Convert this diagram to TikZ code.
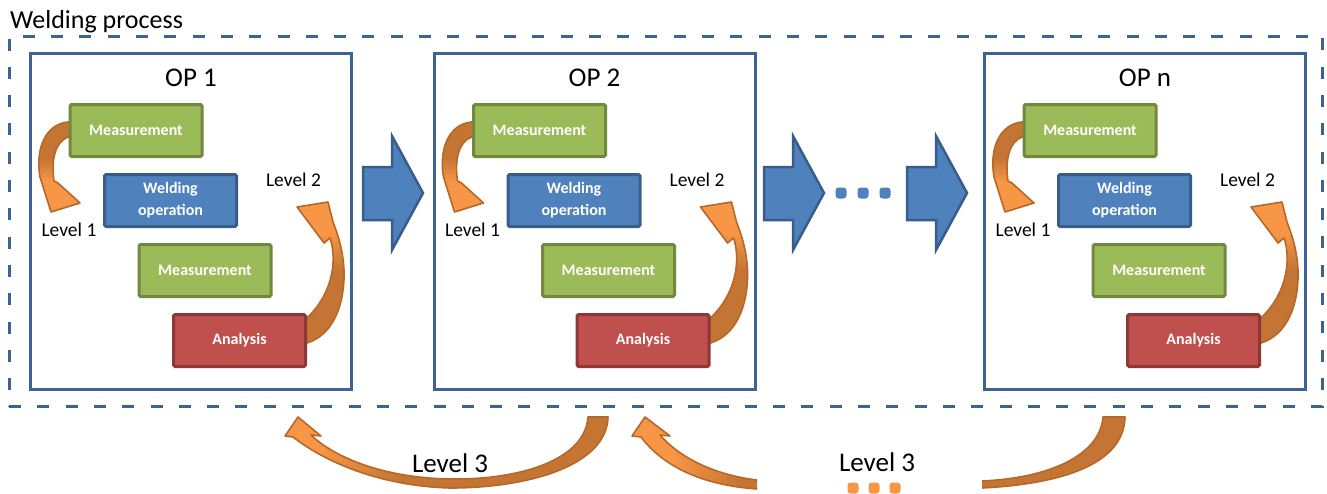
\documentclass[tikz,border=0pt]{standalone}
\usepackage{fontspec}
\setmainfont{Carlito}

% palette
\definecolor{frameblue}{HTML}{3B6393}
\definecolor{mgreen}{HTML}{9BBB59}
\definecolor{mgreenD}{HTML}{71893F}
\definecolor{wblue}{HTML}{4F81BD}
\definecolor{wblueD}{HTML}{385D8A}
\definecolor{ared}{HTML}{C0504D}
\definecolor{aredD}{HTML}{8C3836}
\definecolor{orL}{HTML}{F79646}
\definecolor{orD}{HTML}{C47534}
\definecolor{orEdge}{HTML}{B76828}

% gradients of the curved arrows (light at the head, dark at the tail)
\pgfdeclareverticalshading{lvlone}{100bp}{color(0bp)=(orL); color(42bp)=(orL); color(55bp)=(orD); color(100bp)=(orD)}
\pgfdeclareverticalshading{lvltwo}{100bp}{color(0bp)=(orD); color(51bp)=(orD); color(64bp)=(orL); color(100bp)=(orL)}
\pgfdeclarehorizontalshading{lvlthreeA}{100bp}{color(0bp)=(orL); color(30bp)=(orL); color(43bp)=(orD); color(100bp)=(orD)}
\pgfdeclarehorizontalshading{lvlthreeB}{100bp}{color(0bp)=(orL); color(29bp)=(orL); color(36bp)=(orD); color(100bp)=(orD)}

\begin{document}
\begin{tikzpicture}[x=1pt,y=-1pt,
  stepbox/.style={draw, line width=3pt, rounded corners=1.5pt,
    minimum width=132pt, minimum height=52pt, inner sep=0pt,
    text=white, align=center, font=\fontsize{16}{22}\selectfont\bfseries},
  meas/.style={stepbox, fill=mgreen, draw=mgreenD},
  weld/.style={stepbox, fill=wblue, draw=wblueD},
  anal/.style={stepbox, fill=ared, draw=aredD},
  opbox/.style={draw=frameblue, line width=3pt, minimum width=321pt,
    minimum height=336pt, inner sep=0pt},
  optitle/.style={font=\fontsize{27}{32}\selectfont, inner sep=0pt},
  lvl/.style={font=\fontsize{19.5}{23}\selectfont, inner sep=0pt},
  bigl/.style={font=\fontsize{27}{32}\selectfont, inner sep=0pt},
  curvy/.style={draw=orEdge, line width=1.6pt, line join=round},
  blockarrow/.style={fill=wblue, draw=wblueD, line width=2.5pt, line join=miter},
  dot/.style={rounded corners=3pt},
]
\useasboundingbox (0,0) rectangle (1327,493);

% the whole welding process
\node[draw=frameblue, line width=3pt, dash pattern=on 12pt off 16.3pt,
  minimum width=1313.3pt, minimum height=370.7pt, inner sep=0pt]
  (process) at (665.65,221.35) {};
\node[font=\fontsize{26}{31}\selectfont, inner sep=0pt, anchor=base west]
  (proclabel) at (10,28) {Welding process};

% one block per operation
\foreach \dx/\id/\ot in {0/1/OP 1, 403.5/2/OP 2, 954/n/OP n} {
  \begin{scope}[xshift=\dx pt]
    % Level 1 loop: from the first measurement down to the welding step
    \path[curvy, shading=lvlone]
      (74,122) -- (68,122) .. controls (46,124) and (35,148) .. (40,177)
      -- (51,212) -- (80,203) -- (58,183) -- (54,181)
      .. controls (51,160) and (55,142) .. (68,137) -- (74,137) -- cycle;
    % Level 2 loop: from the analysis back up
    \path[curvy, shading=lvltwo]
      (300,343) -- (307,343) .. controls (333,335) and (345,305) .. (344,270)
      .. controls (343,250) and (338,235) .. (333,222)
      -- (328,202) -- (297,207) -- (324,243) -- (330,238)
      .. controls (336,255) and (336,290) .. (307,318) -- (300,318) -- cycle;

    \node[opbox] (op\id) at (191.3,221.2) {};
    \node[optitle, anchor=base] (title\id) at (191,86) {\ot};
    \node[meas] (mA\id) at (136,130.5) {Measurement};
    \node[weld] (weld\id) at (170.5,200.5) {Welding\\operation};
    \node[meas] (mB\id) at (205,270.5) {Measurement};
    \node[anal] (an\id) at (239.5,340.5) {Analysis};
    \node[lvl, anchor=base] (lvA\id) at (69,236) {Level 1};
    \node[lvl, anchor=base] (lvB\id) at (293.5,186) {Level 2};
  \end{scope}
}

% block arrows between the operations
\foreach \x in {363,764,907} {
  \path[blockarrow] (\x,167) -- (\x+29,167) -- (\x+29,136) -- (\x+60,193)
    -- (\x+29,250) -- (\x+29,220) -- (\x,220) -- cycle;
}
\foreach \x/\k in {841/1,863/2,885/3}
  \fill[wblue, dot] (\x-5.5,187.5) rectangle (\x+5.5,198.5) coordinate (bd\k);

% Level 3 loops between operations
\path[curvy, shading=lvlthreeA]
  (608,417) .. controls (607,465) and (530,488) .. (450,488)
  .. controls (380,486) and (325,462) .. (293,437)
  -- (285,436) -- (298,417) -- (321,436) -- (311,435)
  .. controls (335,458) and (385,478) .. (450,479)
  .. controls (520,480) and (585,460) .. (588,417) -- cycle;

\begin{scope}
  \clip (0,0) rectangle (757,493) (982,0) rectangle (1327,493);
  \path[curvy, shading=lvlthreeB]
    (1125,417) .. controls (1124,465) and (1060,484) .. (982,488)
    -- (757,489) .. controls (700,485) and (662,465) .. (641,437)
    -- (632,436) -- (645,417) -- (670,436) -- (660,435)
    .. controls (680,458) and (715,475) .. (757,480)
    -- (982,481) .. controls (1050,478) and (1100,455) .. (1103,417) -- cycle;
\end{scope}

\node[bigl, anchor=base] (lvC1) at (450,472) {Level 3};
\node[bigl, anchor=base] (lvC2) at (877,471) {Level 3};
\foreach \x/\k in {853/1,874/2,895/3}
  \fill[orL, dot] (\x-5.5,482.5) rectangle (\x+5.5,493.5) coordinate (od\k);
\end{tikzpicture}
\end{document}
